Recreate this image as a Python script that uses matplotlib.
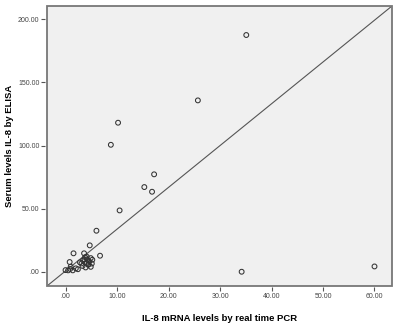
import numpy as np
import matplotlib
matplotlib.use('Agg')
import matplotlib.pyplot as plt
from matplotlib.ticker import FuncFormatter
from matplotlib.patches import Rectangle

# IL-8 mRNA (real time PCR) vs serum IL-8 (ELISA)
pcr = [35.1, 25.7, 10.2, 8.8, 17.2, 15.3, 16.8, 10.5, 6.0, 4.7, 1.55, 6.7, 3.6,
       34.2, 60.0,
       0.0, 0.5, 0.8, 0.9, 1.4, 2.0, 2.8, 3.1, 3.3, 3.7, 3.9, 4.1, 4.2, 4.4, 4.6,
       4.9, 4.9, 4.1, 3.8, 5.1, 5.2, 1.0, 2.4, 4.5, 3.4]
elisa = [187.6, 135.8, 118.1, 100.6, 77.2, 67.1, 63.4, 48.6, 32.5, 20.9, 14.6, 12.7, 14.6,
         0.0, 4.2,
         1.3, 1.1, 7.7, 2.2, 1.1, 2.7, 7.4, 6.6, 4.6, 9.8, 3.4, 7.2, 9.8, 5.5, 8.2,
         10.8, 3.9, 12.0, 11.5, 6.5, 9.5, 4.0, 2.0, 6.0, 9.0]

xticks = [0, 10, 20, 30, 40, 50, 60]
yticks = [0, 50, 100, 150, 200]

matplotlib.rcParams['font.family'] = 'Liberation Sans'

fig = plt.figure(figsize=(4.07, 3.26), dpi=100)
ax = fig.add_axes([47/407, 1-286/326, 345/407, 280/326])
ax.set_facecolor('#f0f0f0')

ax.scatter(pcr, elisa, s=12, facecolors='none', edgecolors='#333333', linewidths=0.75, zorder=3)
# reference diagonal across the plot frame
ax.plot([0, 1], [0, 1], transform=ax.transAxes, color='#555555', lw=0.8, zorder=2)

ax.set_xlim(-3.6, 63.4)
ax.set_ylim(-11.3, 210.6)
ax.set_xticks(xticks)
ax.set_yticks(yticks)
fmt = FuncFormatter(lambda v, p: '.00' if v == 0 else '%.2f' % v)
ax.xaxis.set_major_formatter(fmt)
ax.yaxis.set_major_formatter(fmt)
ax.tick_params(labelsize=5, colors='#555555', labelcolor='#444444', length=3, width=0.8, pad=1)

# axis lines hidden, ticks sit just off a separately drawn frame
for s in ax.spines.values():
    s.set_visible(False)
ax.spines['left'].set_position(('outward', 1.5))
ax.spines['bottom'].set_position(('outward', 1))
ax.add_patch(Rectangle((0, 0), 1, 1, transform=ax.transAxes, fill=False,
                       edgecolor='#777777', lw=1.3, clip_on=False, zorder=4))

ax.set_xlabel('IL-8 mRNA levels by real time PCR', fontsize=6.8, fontweight='bold', labelpad=10)
ax.set_ylabel('Serum levels IL-8 by ELISA', fontsize=6.8, fontweight='bold')
ax.yaxis.set_label_coords(-0.096, 0.5)

fig.savefig('out.png', dpi=100)
